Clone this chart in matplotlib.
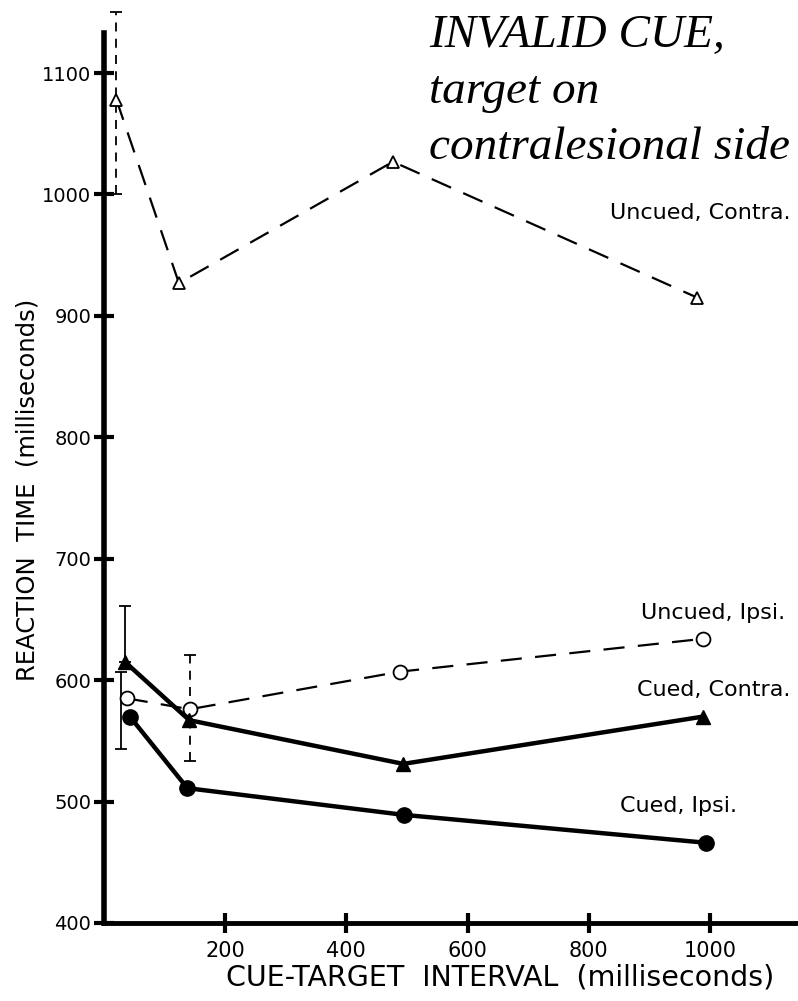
import matplotlib
matplotlib.use('Agg')
import matplotlib.pyplot as plt
import numpy as np

# Reaction time (ms) vs cue-target interval (ms)
uncued_contra_x = [21, 124, 477, 979]
uncued_contra_y = [1078, 927, 1027, 915]

uncued_ipsi_x = [38, 142, 489, 988]
uncued_ipsi_y = [585, 576, 607, 634]

cued_contra_x = [35, 141, 494, 989]
cued_contra_y = [615, 567, 531, 570]

cued_ipsi_x = [43, 138, 495, 994]
cued_ipsi_y = [570, 511, 489, 466]

# error bars: x, low, high, dashed?
err_x = [21, 35, 28, 142]
err_lo = [1000, 615, 543, 533]
err_hi = [1150, 661, 607, 621]
err_dashed = [True, False, False, True]

x_ticks = [200, 400, 600, 800, 1000]
y_ticks = [400, 500, 600, 700, 800, 900, 1000, 1100]
y_ticklabels = ['400', '500', '600', '700', '800', '900', '1000', '1100']

fig = plt.figure(figsize=(7.98, 10.01), dpi=100)
ax = fig.add_axes([0.130, 0.078, 0.870, 0.889])

dash = (9.5, 6)

# error bars first so the markers sit on top
for x, lo, hi, dashed in zip(err_x, err_lo, err_hi, err_dashed):
    mid = (lo + hi) / 2.0
    half = (hi - lo) / 2.0
    eb = ax.errorbar([x], [mid], yerr=[half], fmt='none', ecolor='black',
                     elinewidth=1.3, capsize=4, capthick=1.3, zorder=2)
    for c in eb[2]:
        if dashed:
            c.set_linestyle((0, (5, 4)))
        c.set_clip_on(False)
    for c in eb[1]:
        c.set_clip_on(False)

ax.plot(uncued_contra_x, uncued_contra_y, color='black', lw=1.6,
        dashes=dash, marker='^', ms=8, mfc='white', mec='black', mew=1.3,
        zorder=3, clip_on=False)
ax.plot(uncued_ipsi_x, uncued_ipsi_y, color='black', lw=1.6,
        dashes=dash, marker='o', ms=10, mfc='white', mec='black', mew=1.3,
        zorder=3)
ax.plot(cued_contra_x, cued_contra_y, color='black', lw=3.2,
        marker='^', ms=10, mfc='black', mec='black', zorder=4)
ax.plot(cued_ipsi_x, cued_ipsi_y, color='black', lw=3.2,
        marker='o', ms=11, mfc='black', mec='black', zorder=4)

# series labels
lab = dict(fontsize=16, family='DejaVu Sans', color='black')
ax.text(1132, 985, 'Uncued, Contra.', ha='right', va='center', **lab)
ax.text(1123, 655, 'Uncued, Ipsi.', ha='right', va='center', **lab)
ax.text(1132, 592, 'Cued, Contra.', ha='right', va='center', **lab)
ax.text(1045, 496, 'Cued, Ipsi.', ha='right', va='center', **lab)

# heading
fig.text(0.538, 0.986, 'INVALID CUE,\ntarget on\ncontralesional side',
         ha='left', va='top', fontsize=34, style='italic',
         family='Liberation Serif', linespacing=1.42)

ax.set_xlim(0, 1145)
ax.set_ylim(400, 1133)
ax.set_xticks(x_ticks)
ax.set_yticks(y_ticks)
ax.set_yticklabels(y_ticklabels)

for side in ['top', 'right']:
    ax.spines[side].set_visible(False)
ax.spines['left'].set_linewidth(4)
ax.spines['bottom'].set_linewidth(3.5)
ax.tick_params(axis='both', direction='inout', length=14, width=3,
               labelsize=14)
ax.tick_params(axis='y', pad=2)
ax.tick_params(axis='x', pad=6, labelsize=15)

ax.set_xlabel('CUE-TARGET  INTERVAL  (milliseconds)', fontsize=20.5)
ax.xaxis.set_label_coords(0.571, -0.046)
ax.set_ylabel('REACTION  TIME  (milliseconds)', fontsize=17.5)
ax.yaxis.set_label_coords(-0.092, 0.487)

fig.savefig('out.png', dpi=100, facecolor='white')
